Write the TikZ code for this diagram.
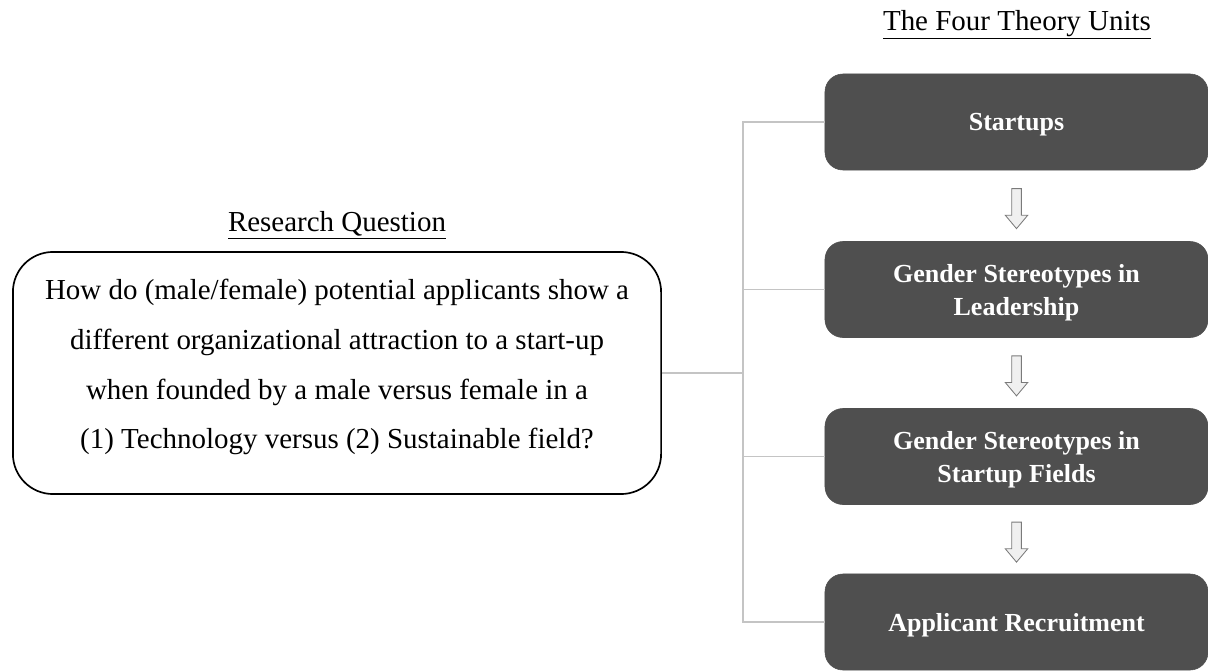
\documentclass[tikz,border=0pt]{standalone}
\usepackage{fontspec}
\setmainfont{Liberation Serif}
\usetikzlibrary{positioning,shapes.arrows}

\definecolor{unitgray}{HTML}{4F4F4F}
\definecolor{linkgray}{HTML}{C4C4C4}
\definecolor{arrowfill}{HTML}{F0F0F0}
\definecolor{arrowline}{HTML}{7A7A7A}

\tikzset{
    unitbox/.style={draw=unitgray, fill=unitgray, rounded corners=0.45cm, minimum width=9.575cm, minimum height=2.4cm, align=center, text depth=-2.4pt, text=white, font=\fontsize{18.5}{23.5}\selectfont\bfseries},
    questionbox/.style={draw, line width=1.2pt, rounded corners=1cm, minimum width=16.2cm, minimum height=6.05cm, align=center, text depth=13pt, font=\fontsize{20.6}{35.5}\selectfont},
    heading/.style={font=\fontsize{20.6}{24}\selectfont},
    link/.style={draw=linkgray, line width=1pt},
    downarrow/.style={single arrow, draw=arrowline, fill=arrowfill, line width=0.6pt, rotate=-90, minimum height=1cm, minimum width=0.55cm, inner sep=0.11cm, single arrow head extend=0.16cm, single arrow tip angle=80}
}

\begin{document}
\begin{tikzpicture}[x=0.025cm, y=-0.025cm]
            \useasboundingbox (0,0) rectangle (1208,670);

            \node (question) [questionbox] at (337,373) {How do (male/female) potential applicants show a\\different organizational attraction to a start-up\\when founded by a male versus female in a\\(1) Technology versus (2) Sustainable field?};
            \node (questionTitle) [heading] at (337,225) {\underline{Research Question}};

            \node (startups) [unitbox] at (1016.5,122) {Startups};
            \node (leadership) [unitbox] at (1016.5,289.5) {Gender Stereotypes in\\Leadership};
            \node (fields) [unitbox] at (1016.5,456.5) {Gender Stereotypes in\\Startup Fields};
            \node (recruitment) [unitbox] at (1016.5,622) {Applicant Recruitment};
            \node (unitsTitle) [heading] at (1017,25) {\underline{The Four Theory Units}};

            \coordinate (trunk) at (743,373);

            \path (startups) -- (leadership) node [midway, downarrow] (arrowA) {};
            \path (leadership) -- (fields) node [midway, downarrow] (arrowB) {};
            \path (fields) -- (recruitment) node [midway, downarrow] (arrowC) {};

            \draw[link] (question.east) -- (trunk);
            \draw[link] (trunk) |- (startups.west);
            \draw[link] (trunk) |- (leadership.west);
            \draw[link] (trunk) |- (fields.west);
            \draw[link] (trunk) |- (recruitment.west);
        \end{tikzpicture}
\end{document}
